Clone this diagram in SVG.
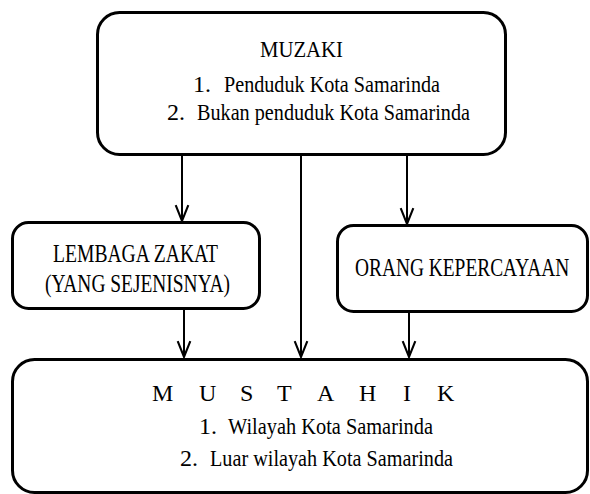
<svg xmlns="http://www.w3.org/2000/svg" width="590" height="494" viewBox="0 0 590 494">
<style>
.box{fill:#fff;stroke:#000;stroke-width:3}
.t{font-family:'Liberation Serif','Times New Roman','DejaVu Serif',serif;font-size:24px;fill:#000}
.m{font-size:25px}
.c{stroke:#000;stroke-width:2;fill:none}
</style>
<defs>
<marker id="ah" markerUnits="userSpaceOnUse" markerWidth="20" markerHeight="20" refX="0" refY="0" viewBox="-17 -8 19 16" orient="auto" overflow="visible">
<path d="M-15,-6 L0,0 L-15,6" fill="none" stroke="#000" stroke-width="2"/>
</marker>
</defs>
<rect width="590" height="494" fill="#fff"/>
<g id="connectors">
<line class="c" x1="182" y1="155" x2="182" y2="221" marker-end="url(#ah)"/>
<line class="c" x1="301" y1="155" x2="301" y2="357" marker-end="url(#ah)"/>
<line class="c" x1="407" y1="155" x2="407" y2="224" marker-end="url(#ah)"/>
<line class="c" x1="184" y1="309" x2="184" y2="357" marker-end="url(#ah)"/>
<line class="c" x1="409" y1="312" x2="409" y2="357" marker-end="url(#ah)"/>
</g>
<g id="muzaki">
<rect class="box" x="97.5" y="12.5" width="408" height="142" rx="22"/>
<text class="t" x="260" y="57" textLength="83" lengthAdjust="spacingAndGlyphs">MUZAKI</text>
<text class="t" x="193" y="92">1.</text>
<text class="t" x="224" y="92" textLength="216" lengthAdjust="spacingAndGlyphs">Penduduk Kota Samarinda</text>
<text class="t" x="167" y="120">2.</text>
<text class="t" x="197" y="120" textLength="273" lengthAdjust="spacingAndGlyphs">Bukan penduduk Kota Samarinda</text>
</g>
<g id="lembaga">
<rect class="box" x="12.5" y="222.5" width="247" height="86" rx="16"/>
<text class="t m" x="53" y="262" textLength="165" lengthAdjust="spacingAndGlyphs">LEMBAGA ZAKAT</text>
<text class="t m" x="45" y="292" textLength="185" lengthAdjust="spacingAndGlyphs">(YANG SEJENISNYA)</text>
</g>
<g id="orang">
<rect class="box" x="337.5" y="225.5" width="250" height="86" rx="16"/>
<text class="t m" transform="translate(355,276) scale(0.776,1)">ORANG KEPERCAYAAN</text>
</g>
<g id="mustahik">
<rect class="box" x="12.5" y="359.5" width="575" height="133" rx="22"/>
<text class="t"><tspan x="152" y="401">M</tspan><tspan x="199" y="401">U</tspan><tspan x="240" y="401">S</tspan><tspan x="277" y="401">T</tspan><tspan x="317" y="401">A</tspan><tspan x="359" y="401">H</tspan><tspan x="403" y="401">I</tspan><tspan x="437" y="401">K</tspan></text>
<text class="t" x="199" y="434">1.</text>
<text class="t" x="228" y="434" textLength="205" lengthAdjust="spacingAndGlyphs">Wilayah Kota Samarinda</text>
<text class="t" x="180" y="466">2.</text>
<text class="t" x="210" y="466" textLength="243" lengthAdjust="spacingAndGlyphs">Luar wilayah Kota Samarinda</text>
</g>
</svg>
